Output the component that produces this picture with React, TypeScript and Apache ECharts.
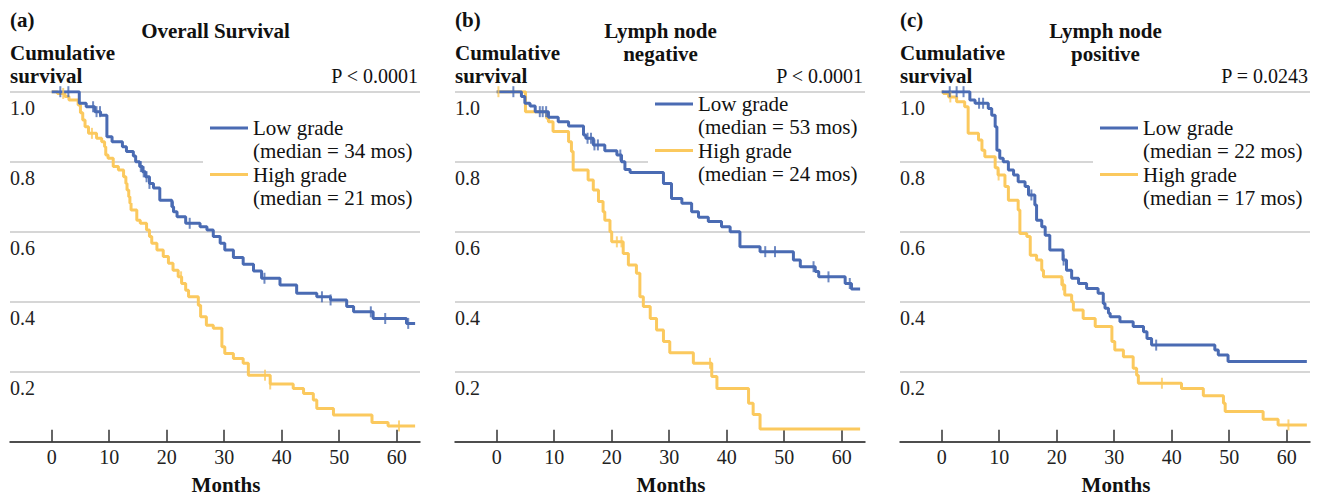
import React, { useEffect, useRef } from "react";
import * as echarts from "echarts";

// ---- Data (months, cumulative survival) ----
const monthTicks = [0, 10, 20, 30, 40, 50, 60];
const survTicks = [0.2, 0.4, 0.6, 0.8, 1.0];

const aLow: [number, number][] = [
  [0, 1.0], [4.8, 0.967], [6.0, 0.957], [7.5, 0.943], [8.5, 0.933], [9.6, 0.871], [10.5, 0.857],
  [12.3, 0.843], [13.0, 0.829], [14.2, 0.816], [14.6, 0.8], [15.3, 0.786], [15.8, 0.771], [16.3, 0.757],
  [17.0, 0.738], [17.7, 0.725], [18.8, 0.69], [20.9, 0.671], [21.2, 0.657], [21.8, 0.643], [23.3, 0.624],
  [25.8, 0.614], [27.0, 0.605], [28.1, 0.586], [29.3, 0.567], [30.1, 0.548], [31.6, 0.526], [33.3, 0.507],
  [35.1, 0.488], [36.5, 0.467], [39.7, 0.448], [42.6, 0.424], [46.1, 0.414], [48.5, 0.405], [51.3, 0.386],
  [52.5, 0.371], [55.9, 0.352], [61.7, 0.338], [63.2, 0.338],
];
const aLowCensor = [1.5, 2.9, 7.2, 7.8, 8.4, 15.5, 16.0, 16.5, 17.0, 21.1, 24.0, 37.0, 47.0, 48.5, 55.5, 58.0, 62.0];
const aHigh: [number, number][] = [
  [0, 1.0], [1.0, 0.995], [2.3, 0.986], [3.0, 0.976], [4.6, 0.962], [5.0, 0.94], [5.4, 0.919], [5.8, 0.9],
  [6.4, 0.881], [7.8, 0.867], [8.7, 0.857], [9.2, 0.843], [9.4, 0.819], [9.8, 0.81], [10.7, 0.786],
  [11.6, 0.776], [12.5, 0.757], [12.9, 0.738], [13.1, 0.719], [13.4, 0.7], [13.6, 0.681], [13.8, 0.662],
  [14.8, 0.633], [15.4, 0.624], [16.5, 0.605], [17.0, 0.586], [17.4, 0.567], [18.3, 0.548], [19.4, 0.529],
  [20.3, 0.51], [21.1, 0.49], [22.0, 0.471], [22.6, 0.452], [23.3, 0.433], [23.8, 0.414], [25.5, 0.39],
  [25.9, 0.357], [26.9, 0.333], [28.1, 0.324], [29.6, 0.271], [30.1, 0.252], [31.6, 0.238], [33.3, 0.224],
  [34.2, 0.19], [38.0, 0.165], [42.0, 0.152], [43.8, 0.138], [45.5, 0.119], [46.1, 0.095], [49.0, 0.076],
  [55.7, 0.055], [58.5, 0.045], [63.2, 0.045],
];
const aHighCensor = [2.0, 7.0, 22.5, 37.1, 38.0, 60.4];

const bLow: [number, number][] = [
  [0, 1.0], [4.3, 0.986], [4.9, 0.967], [5.8, 0.959], [6.7, 0.943], [9.0, 0.927], [10.7, 0.914],
  [12.5, 0.902], [15.1, 0.876], [15.5, 0.867], [16.8, 0.848], [18.8, 0.831], [20.9, 0.819], [21.7, 0.8],
  [22.3, 0.778], [23.2, 0.769], [29.0, 0.738], [30.4, 0.695], [32.2, 0.681], [33.9, 0.657], [35.1, 0.641],
  [36.8, 0.629], [39.1, 0.614], [40.6, 0.6], [42.3, 0.557], [45.8, 0.543], [51.6, 0.519], [52.8, 0.5],
  [55.4, 0.486], [56.0, 0.471], [60.6, 0.452], [61.7, 0.436], [63.2, 0.436],
];
const bLowCensor = [2.9, 7.5, 8.0, 8.6, 15.8, 16.4, 17.0, 17.6, 21.5, 46.7, 48.4, 55.1, 57.7, 61.4];
const bHigh: [number, number][] = [
  [0, 1.0], [5.0, 0.943], [8.7, 0.924], [9.0, 0.914], [9.8, 0.886], [12.5, 0.857], [13.0, 0.829],
  [13.3, 0.776], [15.9, 0.748], [16.8, 0.719], [17.7, 0.686], [18.5, 0.657], [18.8, 0.633], [19.7, 0.6],
  [20.0, 0.571], [22.0, 0.538], [22.9, 0.505], [24.3, 0.481], [24.9, 0.414], [25.5, 0.386], [26.7, 0.352],
  [27.8, 0.319], [29.0, 0.286], [30.1, 0.254], [34.2, 0.224], [37.4, 0.186], [38.3, 0.152], [43.8, 0.11],
  [44.6, 0.078], [45.8, 0.036], [63.2, 0.036],
];
const bHighCensor = [0.3, 20.9, 21.7, 37.1];

const cLow: [number, number][] = [
  [0, 1.0], [4.9, 0.976], [5.8, 0.967], [8.1, 0.952], [8.7, 0.933], [9.3, 0.9], [9.6, 0.833], [10.1, 0.81],
  [10.7, 0.8], [11.6, 0.776], [12.5, 0.762], [13.3, 0.743], [14.5, 0.729], [15.1, 0.705], [16.2, 0.676],
  [16.5, 0.633], [17.4, 0.614], [18.0, 0.59], [18.8, 0.548], [21.1, 0.519], [21.7, 0.49], [22.6, 0.467],
  [23.8, 0.452], [25.2, 0.438], [27.2, 0.424], [28.1, 0.395], [28.4, 0.381], [29.0, 0.367], [29.3, 0.357],
  [31.0, 0.343], [33.3, 0.329], [35.1, 0.314], [35.7, 0.295], [36.5, 0.276], [47.5, 0.262], [48.1, 0.248],
  [49.8, 0.229], [63.5, 0.229],
];
const cLowCensor = [1.4, 2.6, 3.8, 6.5, 7.2, 15.6, 21.2, 37.3];
const cHigh: [number, number][] = [
  [0, 1.0], [0.3, 0.995], [1.2, 0.985], [2.6, 0.971], [4.0, 0.957], [4.6, 0.881], [6.4, 0.862], [7.0, 0.833],
  [7.5, 0.814], [9.3, 0.783], [9.8, 0.762], [11.0, 0.729], [11.6, 0.69], [13.3, 0.662], [13.6, 0.595],
  [14.8, 0.586], [15.4, 0.533], [16.5, 0.519], [17.4, 0.49], [17.7, 0.471], [20.9, 0.448], [21.4, 0.419],
  [22.6, 0.4], [22.9, 0.376], [24.6, 0.352], [26.7, 0.329], [29.6, 0.286], [30.1, 0.262], [31.6, 0.243],
  [33.3, 0.21], [33.9, 0.19], [34.2, 0.167], [41.7, 0.152], [45.5, 0.131], [49.0, 0.11], [49.3, 0.086],
  [55.9, 0.064], [58.5, 0.048], [63.5, 0.048],
];
const cHighCensor = [1.5, 9.9, 21.1, 38.3, 60.3];

const panelLetters = ["(a)", "(b)", "(c)"];
const panelTitles = [["Overall Survival"], ["Lymph node", "negative"], ["Lymph node", "positive"]];
const pValues = ["P < 0.0001", "P < 0.0001", "P = 0.0243"];
const lowMedians = ["(median = 34 mos)", "(median = 53 mos)", "(median = 22 mos)"];
const highMedians = ["(median = 21 mos)", "(median = 24 mos)", "(median = 17 mos)"];

const BLUE = "#4a6bb3";
const YELLOW = "#fbc95e";
const FONT = "'Liberation Serif', 'Times New Roman', serif";

function survAt(curve: [number, number][], t: number): number {
  let s = curve[0][1];
  for (const [x, y] of curve) {
    if (x <= t) s = y;
    else break;
  }
  return s;
}

const App: React.FC = () => {
  const ref = useRef<HTMLDivElement>(null);
  useEffect(() => {
    document.body.style.margin = "0";
    if (!ref.current) return;
    const chart = echarts.init(ref.current, undefined, { renderer: "svg" });

    const curves = [
      { low: aLow, high: aHigh, lowC: aLowCensor, highC: aHighCensor },
      { low: bLow, high: bHigh, lowC: bLowCensor, highC: bHighCensor },
      { low: cLow, high: cHigh, lowC: cLowCensor, highC: cHighCensor },
    ];
    const offsets = [0, 445, 890];
    const legendDy = [0, -24, 0];

    const grids: any[] = [];
    const xAxes: any[] = [];
    const yAxes: any[] = [];
    const series: any[] = [];
    const graphics: any[] = [];

    const txt = (x: number, y: number, text: string, size: number, bold: boolean, align: string) => ({
      type: "text",
      x,
      y,
      z: 10,
      style: {
        text,
        font: `${bold ? "bold " : ""}${size}px ${FONT}`,
        fill: "#111",
        textAlign: align,
        textVerticalAlign: "middle",
        align,
        verticalAlign: "middle",
      },
    });

    curves.forEach((c, i) => {
      const ox = offsets[i];
      grids.push({ left: 10 + ox, top: 91.7, width: 410, height: 350 });
      xAxes.push({
        gridIndex: i,
        type: "value",
        min: -7.25,
        max: 64.05,
        axisLine: { show: true, onZero: false, lineStyle: { color: "#222", width: 1.5 } },
        axisTick: { show: true, inside: true, length: 12, customValues: monthTicks, lineStyle: { color: "#333", width: 1.5 } },
        axisLabel: { customValues: monthTicks, color: "#222", fontFamily: FONT, fontSize: 20, margin: 5 },
        splitLine: { show: false },
      });
      yAxes.push({
        gridIndex: i,
        type: "value",
        min: 0,
        max: 1,
        interval: 0.2,
        axisLine: { show: false },
        axisTick: { show: false },
        splitLine: { show: true, lineStyle: { color: "#c8c8c8", width: 1.5 } },
        axisLabel: {
          inside: true,
          margin: 0,
          align: "left",
          verticalAlign: "top",
          lineHeight: 32,
          color: "#222",
          fontFamily: FONT,
          fontSize: 20,
          formatter: (v: number) => (survTicks.some((t) => Math.abs(t - v) < 1e-6) ? v.toFixed(1) : ""),
        },
      });
      const groups = [
        { data: c.high, cens: c.highC, color: YELLOW },
        { data: c.low, cens: c.lowC, color: BLUE },
      ];
      groups.forEach((g) => {
        series.push({
          type: "line",
          xAxisIndex: i,
          yAxisIndex: i,
          step: "end",
          data: g.data,
          showSymbol: false,
          lineStyle: { color: g.color, width: 3 },
          z: 3,
          silent: true,
        });
        series.push({
          type: "scatter",
          xAxisIndex: i,
          yAxisIndex: i,
          data: g.cens.map((t) => [t, survAt(g.data, t)]),
          symbol: "rect",
          symbolSize: [2, 11],
          itemStyle: { color: g.color },
          z: 4,
          silent: true,
        });
      });

      const dy = legendDy[i];
      // legend background (hides gridline behind legend)
      graphics.push({
        type: "rect",
        z: 1,
        shape: { x: 203 + ox, y: i === 1 ? 94 : 112, width: 218, height: i === 1 ? 92 : 100 },
        style: { fill: "#ffffff" },
      });
      graphics.push({
        type: "line",
        z: 10,
        shape: { x1: 210 + ox, y1: 128 + dy, x2: 248 + ox, y2: 128 + dy },
        style: { stroke: BLUE, lineWidth: 3 },
      });
      graphics.push({
        type: "line",
        z: 10,
        shape: { x1: 210 + ox, y1: 174.5 + dy, x2: 248 + ox, y2: 174.5 + dy },
        style: { stroke: YELLOW, lineWidth: 3 },
      });
      graphics.push(txt(253 + ox, 128 + dy, "Low grade", 21, false, "left"));
      graphics.push(txt(253 + ox, 151 + dy, lowMedians[i], 21, false, "left"));
      graphics.push(txt(253 + ox, 175 + dy, "High grade", 21, false, "left"));
      graphics.push(txt(253 + ox, 198 + dy, highMedians[i], 21, false, "left"));

      graphics.push(txt(10 + ox, 20, panelLetters[i], 21, true, "left"));
      panelTitles[i].forEach((line, k) => graphics.push(txt(215.5 + ox, 31 + k * 23, line, 21, true, "center")));
      graphics.push(txt(10 + ox, 53, "Cumulative", 21, true, "left"));
      graphics.push(txt(10 + ox, 76, "survival", 21, true, "left"));
      graphics.push(txt(418 + ox, 76, pValues[i], 20, false, "right"));
      graphics.push(txt(226 + ox, 485, "Months", 21, true, "center"));
    });

    chart.setOption({
      animation: false,
      backgroundColor: "#ffffff",
      grid: grids,
      xAxis: xAxes,
      yAxis: yAxes,
      series,
      graphic: { elements: graphics },
    });
    return () => chart.dispose();
  }, []);
  return <div ref={ref} style={{ width: 1322, height: 498 }} />;
};

export default App;
